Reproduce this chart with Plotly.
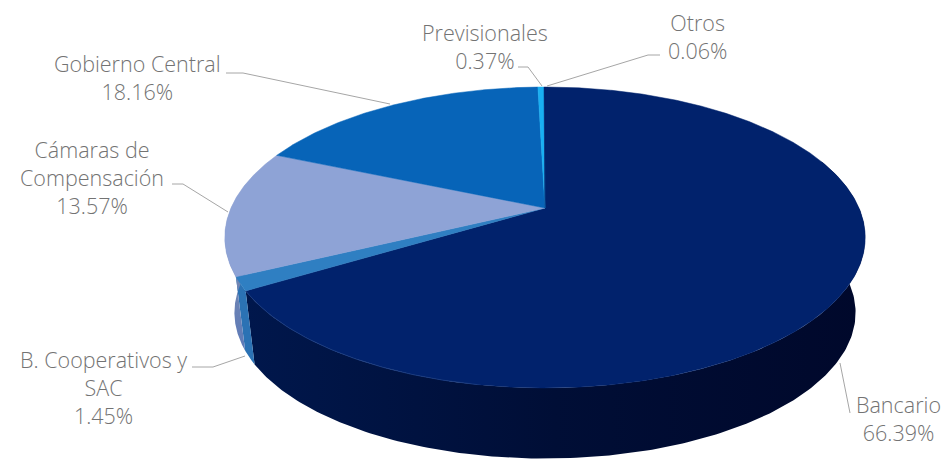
import numpy as np
import plotly.graph_objects as go

# Data
categories = ["Bancario", "B. Cooperativos y<br>SAC", "Cámaras de<br>Compensación",
              "Gobierno Central", "Previsionales", "Otros"]
shares = [66.39, 1.45, 13.57, 18.16, 0.37, 0.06]

# Styles
top_colors = ["#01226c", "#2f7fc2", "#8ea3d6", "#0764b8", "#19b0f2", "#01226c"]
side_colors = ["#00103c", "#2b72b4", "#5673b4", "#0764b8", "#19b0f2", "#01226c"]
side_gradients = {
    0: dict(type="horizontal", colorscale=[[0, "#00174c"], [0.5, "#000e36"], [1, "#00082b"]]),
    2: dict(type="vertical", colorscale=[[0, "#5c7ab8"], [0.6, "#7f8db0"], [1, "#dfe3ea"]]),
}
label_centers = [(898, 418), (103, 387), (92, 177), (137, 77), (485, 46), (697, 36)]
leaders = [
    [(850, 413), (840, 363)],
    [(192, 367), (213, 367), (245, 356)],
    [(172, 184), (183, 184), (228, 212)],
    [(226, 73), (243, 73), (390, 104)],
    [(518, 67), (528, 67), (542, 86)],
    [(660, 55), (648, 55), (547, 86)],
]
CX, CY, RX, RY, K, DEPTH, FLOOR_SCALE = 545.0, 208.0, 314.0, 144.7, 0.196, 76.0, 0.97


def rim(theta_deg, shift=0.0, scale=1.0):
    t = np.radians(theta_deg)
    u, v = np.sin(t), -np.cos(t)
    w = 1 - K * v
    return CX + scale * RX * u / w, CY + scale * RY * v / w + shift


fig = go.Figure()
edges = np.concatenate([[0], np.cumsum(shares)]) / sum(shares) * 360

# walls, front part only
for i in range(len(shares)):
    a, b = max(edges[i], 70), min(edges[i + 1], 290)
    if b <= a:
        continue
    th = np.linspace(a, b, 200)
    x1, y1 = rim(th)
    x2, y2 = rim(th[::-1], DEPTH, FLOOR_SCALE)
    trace = dict(x=np.r_[x1, x2], y=np.r_[y1, y2], mode="lines", fill="toself",
                 line=dict(width=0, color=side_colors[i]), hoverinfo="skip", showlegend=False)
    if i in side_gradients:
        trace["fillgradient"] = side_gradients[i]
    else:
        trace["fillcolor"] = side_colors[i]
    fig.add_trace(go.Scatter(**trace))

# top faces
for i in range(len(shares)):
    th = np.linspace(edges[i], edges[i + 1], max(int(edges[i + 1] - edges[i]) * 3, 4))
    x, y = rim(th)
    fig.add_trace(go.Scatter(x=np.r_[CX, x, CX], y=np.r_[CY, y, CY], mode="lines", fill="toself",
                             fillcolor=top_colors[i], line=dict(width=0.5, color=top_colors[i]),
                             name=categories[i].replace("<br>", " "), text=f"{shares[i]:.2f}%",
                             hoverinfo="name+text", showlegend=False))

# subtle highlight on the front rim
th = np.linspace(190, 239, 80)
xh, yh = rim(th)
fig.add_trace(go.Scatter(x=xh, y=yh, mode="lines", line=dict(width=0.8, color="#1c3c80"),
                         hoverinfo="skip", showlegend=False))

for pts in leaders:
    fig.add_trace(go.Scatter(x=[p[0] for p in pts], y=[p[1] for p in pts], mode="lines",
                             line=dict(width=1, color="#a6a6a6"), hoverinfo="skip", showlegend=False))

for name, val, (lx, ly) in zip(categories, shares, label_centers):
    fig.add_annotation(x=lx, y=ly, text=f"{name}<br>{val:.2f}%", showarrow=False, align="center",
                       xanchor="center", yanchor="middle",
                       font=dict(family="Open Sans", size=21.5, weight=300, color="#737373"))

fig.update_xaxes(visible=False, range=[0, 943], fixedrange=True)
fig.update_yaxes(visible=False, range=[460, 0], fixedrange=True)
fig.update_layout(width=943, height=460, margin=dict(l=0, r=0, t=0, b=0),
                  paper_bgcolor="white", plot_bgcolor="white")
fig.write_html("out.html", config=dict(displayModeBar=False),
               post_script="document.body.style.margin='0';document.body.style.overflow='hidden';")
